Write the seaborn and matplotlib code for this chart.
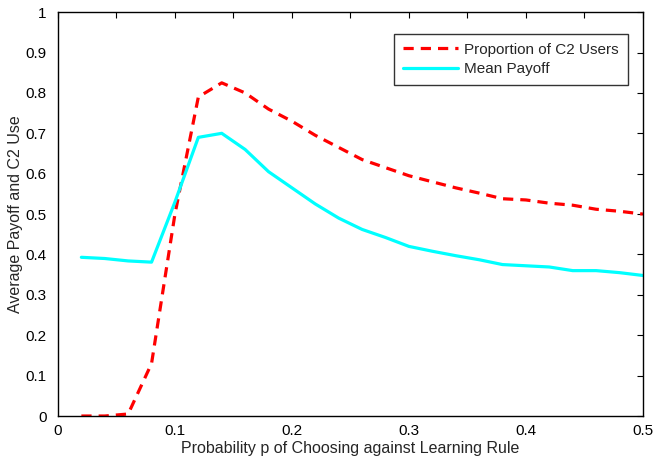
import numpy as np
import pandas as pd
import seaborn as sns
import matplotlib
matplotlib.use("Agg")
import matplotlib.pyplot as plt

p_values = [0.02, 0.04, 0.06, 0.08, 0.10, 0.12, 0.14, 0.16, 0.18, 0.20, 0.22, 0.24, 0.26,
            0.28, 0.30, 0.32, 0.34, 0.36, 0.38, 0.40, 0.42, 0.44, 0.46, 0.48, 0.50]
c2_users = [0.0, 0.0, 0.005, 0.13, 0.50, 0.79, 0.825, 0.80, 0.76, 0.73, 0.695, 0.665, 0.635,
            0.615, 0.595, 0.58, 0.565, 0.552, 0.538, 0.535, 0.527, 0.522, 0.512, 0.507, 0.50]
mean_payoff = [0.393, 0.39, 0.384, 0.381, 0.53, 0.69, 0.70, 0.66, 0.605, 0.565, 0.525, 0.49, 0.462,
               0.442, 0.42, 0.408, 0.397, 0.387, 0.375, 0.372, 0.369, 0.36, 0.36, 0.355, 0.348]
x_ticks = [0, 0.1, 0.2, 0.3, 0.4, 0.5]
x_ticklabels = ['0', '0.1', '0.2', '0.3', '0.4', '0.5']
y_ticks = [0, 0.1, 0.2, 0.3, 0.4, 0.5, 0.6, 0.7, 0.8, 0.9, 1]
y_ticklabels = ['0', '0.1', '0.2', '0.3', '0.4', '0.5', '0.6', '0.7', '0.8', '0.9', '1']

sns.set_theme(style="white")
plt.rcParams['font.family'] = ['Liberation Sans', 'DejaVu Sans']

df = pd.DataFrame({'p': p_values, 'Proportion of C2 Users': c2_users, 'Mean Payoff': mean_payoff})

fig = plt.figure(figsize=(6.55, 4.61), dpi=100)
ax = fig.add_axes([0.0885, 0.0976, 0.8930, 0.8760])

sns.lineplot(data=df, x='p', y='Proportion of C2 Users', ax=ax, color='red',
             linewidth=2.3, dashes=(3.2, 2.2), label='Proportion of C2 Users')
sns.lineplot(data=df, x='p', y='Mean Payoff', ax=ax, color='cyan', linewidth=2.3,
             label='Mean Payoff')

ax.set_xlim(0, 0.5)
ax.set_ylim(0, 1)
ax.set_xticks(x_ticks)
ax.set_xticklabels(x_ticklabels)
ax.set_xticks(np.arange(0.05, 0.5, 0.1), minor=True)
ax.set_yticks(y_ticks)
ax.set_yticklabels(y_ticklabels)
ax.tick_params(which='both', direction='in', top=True, right=True, length=4, width=0.8,
               colors='black')
ax.tick_params(axis='both', labelsize=11)
ax.tick_params(axis='y', pad=8)
ax.tick_params(axis='x', pad=6)
for s in ax.spines.values():
    s.set_color('black')
    s.set_linewidth(1)
ax.set_xlabel('Probability p of Choosing against Learning Rule', fontsize=11.5, labelpad=2)
ax.set_ylabel('Average Payoff and C2 Use', fontsize=11.5, labelpad=2)

leg = ax.legend(loc='upper right', bbox_to_anchor=(0.974, 0.947), fontsize=11, frameon=True,
                fancybox=False, handlelength=3.6, handletextpad=0.4, borderpad=0.6,
                labelspacing=0.35, borderaxespad=0)
leg.get_frame().set_edgecolor('black')
leg.get_frame().set_linewidth(1)

fig.savefig('out.png', dpi=100)
